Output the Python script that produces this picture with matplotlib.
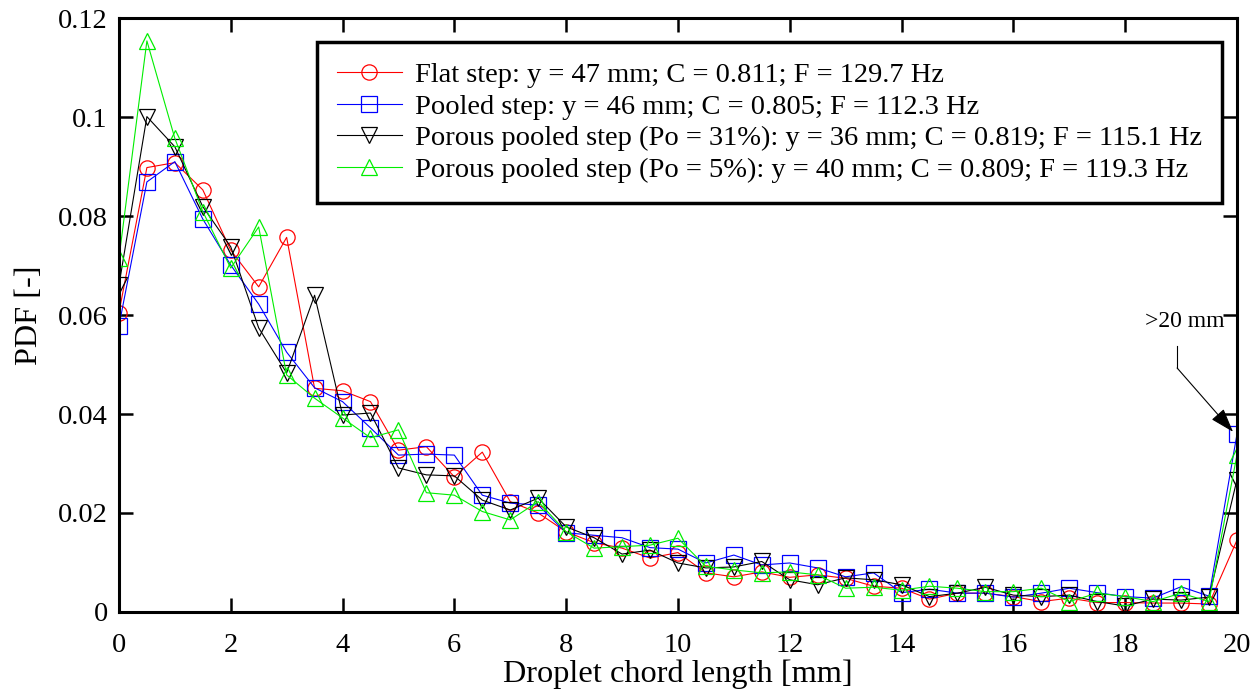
import numpy as np
import matplotlib
matplotlib.use("Agg")
import matplotlib.pyplot as plt
from matplotlib.ticker import FuncFormatter

plt.rcParams['font.family'] = ['Liberation Serif', 'DejaVu Serif']

# chord length bins [mm]
x = np.arange(0, 20.5, 0.5)

flat = [0.0605, 0.0898, 0.0908, 0.0853, 0.0731, 0.0657, 0.0757, 0.0452, 0.0447, 0.0425,
        0.0327, 0.0334, 0.0273, 0.0323, 0.0223, 0.0200, 0.0162, 0.0140, 0.0129, 0.0109,
        0.0120, 0.0079, 0.0071, 0.0081, 0.0070, 0.0075, 0.0068, 0.0052, 0.0048, 0.0026,
        0.0038, 0.0038, 0.0031, 0.0021, 0.0028, 0.0019, 0.0019, 0.0018, 0.0018, 0.0016,
        0.0145]
pooled = [0.0578, 0.0869, 0.0910, 0.0794, 0.0701, 0.0622, 0.0525, 0.0453, 0.0425, 0.0372,
          0.0317, 0.0319, 0.0317, 0.0236, 0.0220, 0.0216, 0.0160, 0.0155, 0.0150, 0.0130,
          0.0127, 0.0099, 0.0115, 0.0095, 0.0099, 0.0089, 0.0071, 0.0079, 0.0039, 0.0046,
          0.0038, 0.0038, 0.0030, 0.0038, 0.0048, 0.0039, 0.0031, 0.0028, 0.0051, 0.0032,
          0.0359]
porous31 = [0.0660, 0.1001, 0.0940, 0.0819, 0.0738, 0.0574, 0.0483, 0.0640, 0.0398, 0.0402,
            0.0291, 0.0277, 0.0275, 0.0226, 0.0206, 0.0230, 0.0172, 0.0150, 0.0117, 0.0125,
            0.0099, 0.0089, 0.0091, 0.0102, 0.0065, 0.0055, 0.0069, 0.0065, 0.0055, 0.0031,
            0.0038, 0.0050, 0.0034, 0.0031, 0.0034, 0.0021, 0.0012, 0.0026, 0.0024, 0.0030,
            0.0267]
porous5 = [0.0715, 0.1154, 0.0957, 0.0809, 0.0695, 0.0778, 0.0479, 0.0432, 0.0392, 0.0352,
           0.0368, 0.0241, 0.0236, 0.0203, 0.0186, 0.0223, 0.0162, 0.0129, 0.0132, 0.0135,
           0.0149, 0.0092, 0.0085, 0.0079, 0.0081, 0.0075, 0.0048, 0.0050, 0.0044, 0.0052,
           0.0048, 0.0041, 0.0041, 0.0048, 0.0021, 0.0038, 0.0031, 0.0021, 0.0038, 0.0021,
           0.0317]

labels = ["Flat step: y = 47 mm; C = 0.811; F = 129.7 Hz",
          "Pooled step: y = 46 mm; C = 0.805; F = 112.3 Hz",
          "Porous pooled step (Po = 31%): y = 36 mm; C = 0.819; F = 115.1 Hz",
          "Porous pooled step (Po = 5%): y = 40 mm; C = 0.809; F = 119.3 Hz"]

fig = plt.figure(figsize=(12.6, 6.97), dpi=100)
ax = fig.add_axes([0.0944, 0.122, 0.8873, 0.852])

style = dict(lw=0.8, ms=11, mfc='none', mew=0.9)
ax.plot(x, flat, '-o', color='#ff0000', label=labels[0], **style)
ax.plot(x, pooled, '-s', color='#0000ff', label=labels[1], **style)
ax.plot(x, porous31, '-v', color='black', label=labels[2], **style)
ax.plot(x, porous5, '-^', color='#00ee00', label=labels[3], **style)

ax.set_xlim(0, 20)
ax.set_ylim(0, 0.12)
ax.set_xticks(np.arange(0, 21, 2))
ax.set_yticks(np.arange(0, 0.121, 0.02))
ax.yaxis.set_major_formatter(FuncFormatter(lambda v, p: "%g" % round(v, 3)))
ax.tick_params(direction='in', length=10, width=1.8, labelsize=20.5,
               top=True, right=True)
ax.tick_params(axis='x', pad=15)
ax.tick_params(axis='y', pad=8)
for s in ax.spines.values():
    s.set_linewidth(2.2)

ax.set_xlabel("Droplet chord length [mm]", fontsize=23.3, labelpad=1)
ax.set_ylabel("PDF [-]", fontsize=23.3, labelpad=10)

leg = ax.legend(loc='upper right', bbox_to_anchor=(0.9866, 0.9596), fontsize=20.5,
                frameon=True, fancybox=False, edgecolor='black', framealpha=1,
                handlelength=2.3, handletextpad=0.45, borderaxespad=0,
                labelspacing=0.2, borderpad=0.7)
leg.get_frame().set_linewidth(2.5)

# >20 mm annotation
ax.text(19.07, 0.0586, ">20 mm", ha='center', va='center', fontsize=17)
ax.plot([18.93, 18.93], [0.0537, 0.0493], color='black', lw=0.8)
ax.annotate("", xy=(19.93, 0.0364), xytext=(18.93, 0.0493),
            arrowprops=dict(arrowstyle='-|>,head_length=1.5,head_width=0.5',
                            color='black', lw=0.8, shrinkA=0, shrinkB=0))

plt.savefig("out.png", dpi=100)
